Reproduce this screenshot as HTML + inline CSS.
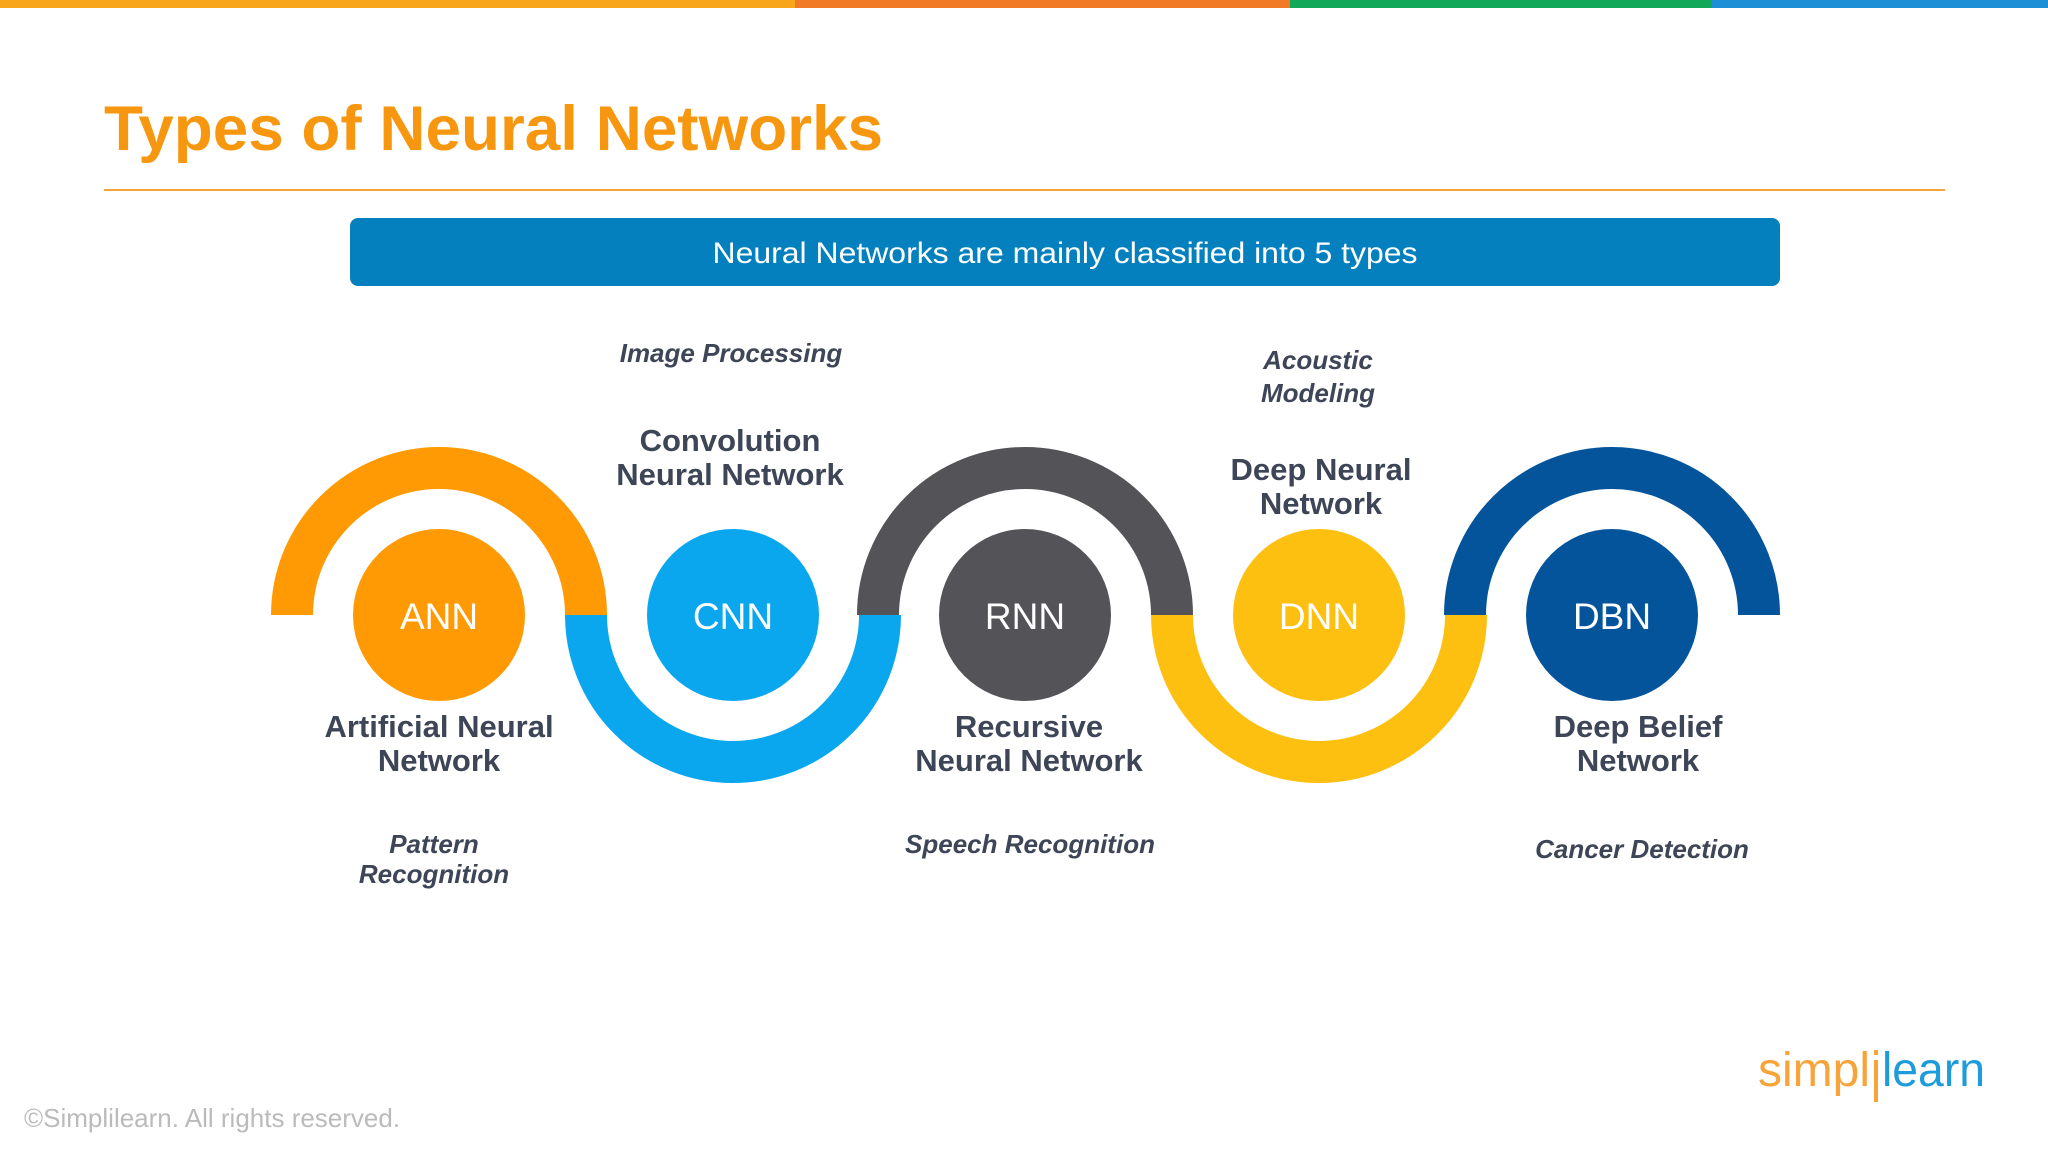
<!DOCTYPE html>
<html><head><meta charset="utf-8"><style>
html,body{margin:0;padding:0;background:#fff;}
svg{display:block;}
text{font-family:"Liberation Sans",Arial,sans-serif;}
</style></head><body>
<svg width="2048" height="1152" viewBox="0 0 2048 1152" xmlns="http://www.w3.org/2000/svg">
<rect x="0" y="0" width="795" height="8" fill="#F9A51B"/>
<rect x="795" y="0" width="495" height="8" fill="#F07A26"/>
<rect x="1290" y="0" width="422" height="8" fill="#12A85A"/>
<rect x="1712" y="0" width="336" height="8" fill="#1C8FD6"/>

<text x="104" y="150" font-size="63" font-weight="bold" fill="#F7970F" textLength="779" lengthAdjust="spacingAndGlyphs">Types of Neural Networks</text>
<rect x="104" y="189" width="1841" height="2" fill="#F5A53A"/>

<rect x="350" y="218" width="1430" height="68" rx="8" fill="#0580BF"/>
<text x="1065" y="263" font-size="30" fill="#fff" text-anchor="middle" textLength="705" lengthAdjust="spacingAndGlyphs">Neural Networks are mainly classified into 5 types</text>

<g fill="none" stroke-width="42">
<path d="M292 615 A147 147 0 0 1 586 615" stroke="#FF9A05"/>
<path d="M586 615 A147 147 0 0 0 880 615" stroke="#0AA7EF"/>
<path d="M878 615 A147 147 0 0 1 1172 615" stroke="#545458"/>
<path d="M1172 615 A147 147 0 0 0 1466 615" stroke="#FDC010"/>
<path d="M1465 615 A147 147 0 0 1 1759 615" stroke="#04549C"/>
</g>
<circle cx="439" cy="615" r="86" fill="#FF9A05"/>
<circle cx="733" cy="615" r="86" fill="#0AA7EF"/>
<circle cx="1025" cy="615" r="86" fill="#545458"/>
<circle cx="1319" cy="615" r="86" fill="#FDC010"/>
<circle cx="1612" cy="615" r="86" fill="#04549C"/>
<g font-size="37" fill="#fff" text-anchor="middle">
<text x="439" y="629">ANN</text>
<text x="733" y="629">CNN</text>
<text x="1025" y="629">RNN</text>
<text x="1319" y="629">DNN</text>
<text x="1612" y="629">DBN</text>
</g>

<g font-size="31" font-weight="bold" fill="#3D4557" text-anchor="middle">
<text x="730" y="451">Convolution</text>
<text x="730" y="485">Neural Network</text>
<text x="1321" y="480">Deep Neural</text>
<text x="1321" y="514">Network</text>
<text x="439" y="737">Artificial Neural</text>
<text x="439" y="771">Network</text>
<text x="1029" y="737">Recursive</text>
<text x="1029" y="771">Neural Network</text>
<text x="1638" y="737">Deep Belief</text>
<text x="1638" y="771">Network</text>
</g>
<g font-size="26" font-weight="bold" font-style="italic" fill="#3D4557" text-anchor="middle">
<text x="731" y="362">Image Processing</text>
<text x="1318" y="369">Acoustic</text>
<text x="1318" y="402">Modeling</text>
<text x="434" y="853">Pattern</text>
<text x="434" y="883">Recognition</text>
<text x="1030" y="853">Speech Recognition</text>
<text x="1642" y="858">Cancer Detection</text>
</g>

<text x="24" y="1127" font-size="26" fill="#BBBBBB">©Simplilearn. All rights reserved.</text>
<text x="1758" y="1086" font-size="48" fill="#F7A43A" textLength="112" lengthAdjust="spacingAndGlyphs">simpl</text>
<rect x="1874" y="1060" width="4" height="42" fill="#F7A43A"/>
<rect x="1874" y="1050" width="4" height="5" fill="#F7A43A"/>
<text x="1882" y="1086" font-size="48" fill="#1E9BDB" textLength="103" lengthAdjust="spacingAndGlyphs">learn</text>
</svg>
</body></html>
